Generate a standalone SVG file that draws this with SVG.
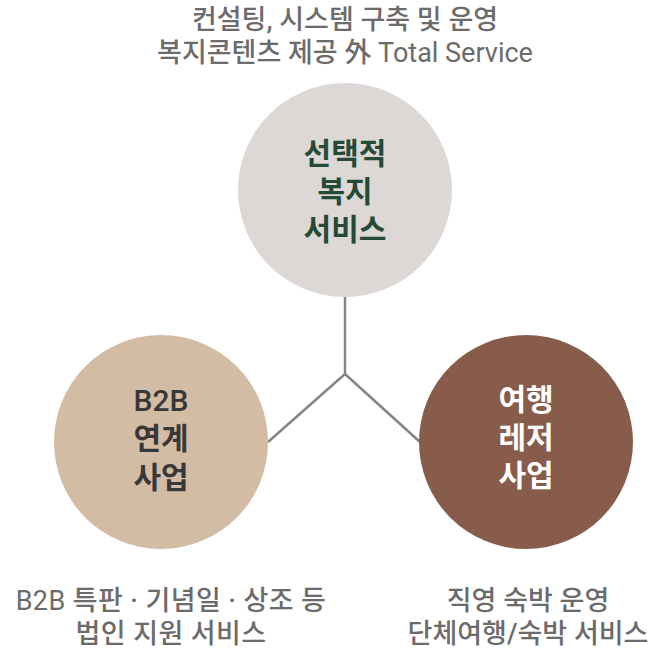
<svg xmlns="http://www.w3.org/2000/svg" width="651" height="650" viewBox="0 0 651 650">
<style>
text{font-family:Roboto,"Noto Sans CJK KR","Noto Sans",sans-serif;text-anchor:middle}
.cap{font-size:27px;font-weight:500;fill:#6b6b6b}
.lbl{font-size:30px;font-weight:700}
.lat{font-weight:400}
.conn{stroke:#858585;stroke-width:2.5;fill:none}
</style>
<rect width="651" height="650" fill="#ffffff"/>
<g id="connectors">
<polyline class="conn" points="345,297 345,374"/>
<polyline class="conn" points="268,442 345,374 420,442"/>
</g>
<g id="node-top">
<circle cx="345" cy="190" r="107" fill="#ddd7d5"/>
<text class="lbl" fill="#264a38"><tspan x="345" y="164">선택적</tspan><tspan x="345" y="202">복지</tspan><tspan x="345" y="240">서비스</tspan></text>
</g>
<g id="node-left">
<circle cx="161" cy="442" r="107" fill="#d3bca4"/>
<text class="lbl" fill="#383838"><tspan x="161" y="411" font-weight="500">B2B</tspan><tspan x="161" y="449">연계</tspan><tspan x="161" y="488">사업</tspan></text>
</g>
<g id="node-right">
<circle cx="526" cy="442" r="107" fill="#875c4a"/>
<text class="lbl" fill="#ffffff"><tspan x="526" y="410">여행</tspan><tspan x="526" y="448">레저</tspan><tspan x="526" y="486">사업</tspan></text>
</g>
<g id="captions">
<text class="cap"><tspan x="345" y="29">컨설팅, 시스템 구축 및 운영</tspan><tspan x="345" y="62">복지콘텐츠 제공 外 <tspan class="lat">Total Service</tspan></tspan></text>
<text class="cap" letter-spacing="0.4"><tspan x="171" y="610"><tspan class="lat">B2B</tspan> 특판 · 기념일 · 상조 등</tspan><tspan x="171" y="643">법인 지원 서비스</tspan></text>
<text class="cap"><tspan x="528" y="610">직영 숙박 운영</tspan><tspan x="528" y="643">단체여행/숙박 서비스</tspan></text>
</g>
</svg>
